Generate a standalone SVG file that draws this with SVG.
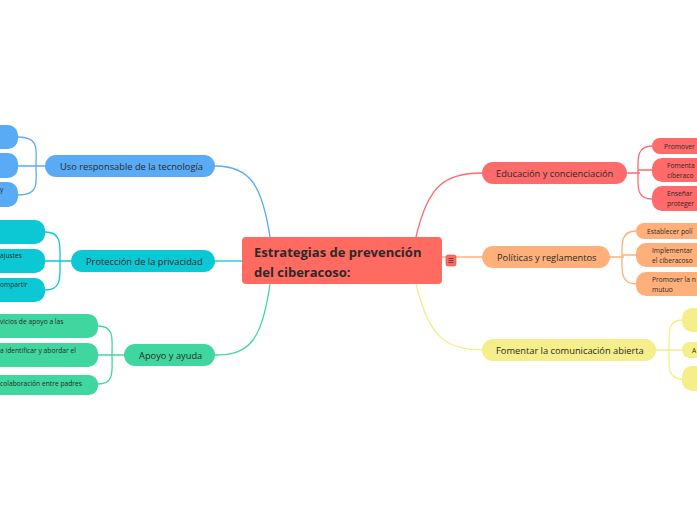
<svg xmlns="http://www.w3.org/2000/svg" width="697" height="520" viewBox="0 0 697 520">
<style>
text{font-family:"Open Sans","Noto Sans",sans-serif;fill:#2a2a2a}
.b{font-size:9.3px}
.s{font-size:6.7px}
.c{fill:none;stroke-width:1.3}
</style>
<rect width="697" height="520" fill="#fff"/>
<g id="connectors">
<path class="c" stroke="#5aabf5" d="M270 237 C262 185 250 166 215 166"/>
<path class="c" stroke="#0cc8d4" d="M242 261 H215"/>
<path class="c" stroke="#40d6a0" d="M270 284 C262 340 250 355 215 355"/>
<path class="c" stroke="#ff6b6b" d="M416 237 C428 185 445 173 482 173"/>
<path class="c" stroke="#ffb07a" d="M442 257 H482"/>
<path class="c" stroke="#f5ee8a" d="M416 284 C428 335 445 350 482 350"/>
<path class="c" stroke="#5aabf5" d="M45 166 H35 M18 137 C40 137 36 150 36 166 C36 182 40 195 18 195 M18 166 H36"/>
<path class="c" stroke="#0cc8d4" d="M71 261 H60 M45 232 C62 232 60 245 60 261 C60 277 62 290 45 290 M45 261 H60"/>
<path class="c" stroke="#40d6a0" d="M124 355 H112 M98 326 C115 326 112 340 112 355 C112 370 115 384 98 384 M98 355 H112"/>
<path class="c" stroke="#ff6b6b" d="M627 173 H640 M652 146 C636 146 638 160 638 173 C638 186 636 199 652 199 M652 170 H638"/>
<path class="c" stroke="#ffb07a" d="M610 257 H624 M636 231 C620 231 622 245 622 257 C622 270 620 284 636 284 M636 255 H622"/>
<path class="c" stroke="#f5ee8a" d="M656 350 H670 M682 320 C667 320 669 335 669 350 C669 365 667 379 682 379 M682 350 H669"/>
</g>
<g id="center">
<rect x="242" y="237" width="200" height="47" rx="4" fill="#ff6b61"/>
<text x="254" y="257" font-size="13" font-weight="bold">Estrategias de prevención</text>
<text x="254" y="277" font-size="13" font-weight="bold">del ciberacoso:</text>
<rect x="446" y="255" width="10" height="11" rx="2" fill="#ff6b61" stroke="#d94a40" stroke-width="0.6"/>
<path d="M448.5 258.5h5M448.5 260.5h5M448.5 262.5h5" stroke="#333" stroke-width="0.8"/>
</g>
<g id="edu">
<rect x="482" y="162" width="145" height="22" rx="11" fill="#ff6b6b"/>
<text class="b" x="496" y="176.5">Educación y concienciación</text>
<rect x="652" y="138" width="60" height="16" rx="8" fill="#ff6b6b"/><text class="s" x="664" y="148.5">Promover</text>
<rect x="652" y="158" width="60" height="24" rx="10" fill="#ff6b6b"/><text class="s" x="667" y="168">Fomenta</text><text class="s" x="667" y="178">ciberaco</text>
<rect x="652" y="186" width="60" height="25" rx="10" fill="#ff6b6b"/><text class="s" x="667" y="196">Enseñar</text><text class="s" x="667" y="206">proteger</text>
</g>
<g id="pol">
<rect x="482" y="246" width="128" height="22" rx="11" fill="#ffb07a"/>
<text class="b" x="497" y="260.5">Políticas y reglamentos</text>
<rect x="636" y="223" width="70" height="16" rx="8" fill="#ffb07a"/><text class="s" x="647" y="233.5">Establecer polí</text>
<rect x="636" y="243" width="70" height="24" rx="10" fill="#ffb07a"/><text class="s" x="652" y="253">Implementar</text><text class="s" x="652" y="263">el ciberacoso</text>
<rect x="636" y="272" width="70" height="24" rx="10" fill="#ffb07a"/><text class="s" x="652" y="282">Promover la n</text><text class="s" x="652" y="292">mutuo</text>
</g>
<g id="com">
<rect x="482" y="339" width="174" height="22" rx="11" fill="#f5ee8a"/>
<text class="b" x="496" y="353.5">Fomentar la comunicación abierta</text>
<rect x="682" y="308" width="30" height="24" rx="10" fill="#f5ee8a"/>
<rect x="682" y="342" width="30" height="16" rx="8" fill="#f5ee8a"/><text class="s" x="692" y="352.5">A</text>
<rect x="682" y="366" width="30" height="25" rx="10" fill="#f5ee8a"/>
</g>
<g id="uso">
<rect x="45" y="155" width="170" height="22" rx="11" fill="#5aabf5"/>
<text class="b" x="60" y="169.5">Uso responsable de la tecnología</text>
<rect x="-20" y="125" width="38" height="24" rx="10" fill="#5aabf5"/>
<rect x="-20" y="153" width="38" height="25" rx="10" fill="#5aabf5"/>
<rect x="-20" y="182" width="38" height="25" rx="10" fill="#5aabf5"/><text class="s" x="0" y="192">y</text>
</g>
<g id="priv">
<rect x="71" y="250" width="144" height="22" rx="11" fill="#0cc8d4"/>
<text class="b" x="86" y="264.5">Protección de la privacidad</text>
<rect x="-20" y="220" width="65" height="24" rx="10" fill="#0cc8d4"/>
<rect x="-20" y="249" width="65" height="24" rx="10" fill="#0cc8d4"/><text class="s" x="0" y="258">ajustes</text>
<rect x="-20" y="278" width="65" height="24" rx="10" fill="#0cc8d4"/><text class="s" x="0" y="287">ompartir</text>
</g>
<g id="apoyo">
<rect x="124" y="344" width="91" height="22" rx="11" fill="#40d6a0"/>
<text class="b" x="139" y="358.5">Apoyo y ayuda</text>
<rect x="-20" y="314" width="118" height="24" rx="10" fill="#40d6a0"/><text class="s" x="0" y="324">vicios de apoyo a las</text>
<rect x="-20" y="343" width="118" height="24" rx="10" fill="#40d6a0"/><text class="s" x="0" y="353">a identificar y abordar el</text>
<rect x="-20" y="375" width="118" height="20" rx="9" fill="#40d6a0"/><text class="s" x="0" y="386">colaboración entre padres</text>
</g>
</svg>
